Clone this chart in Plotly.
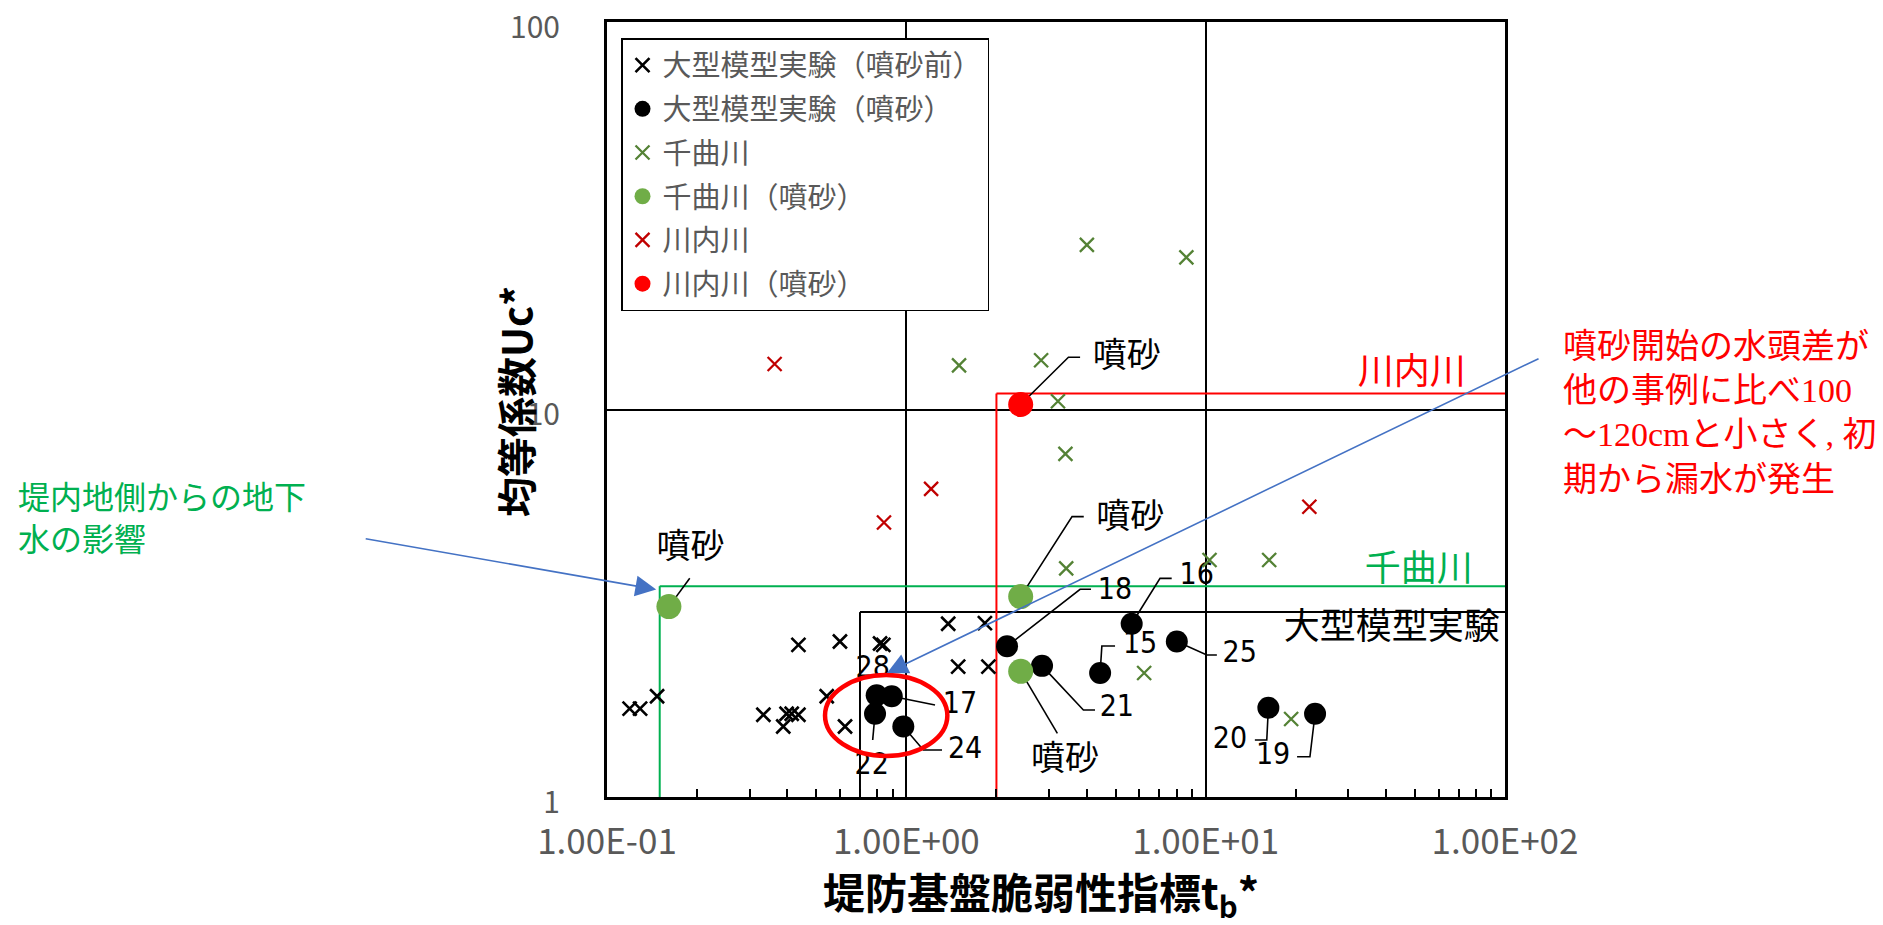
import numpy as np
import plotly.graph_objects as go

# ---- data -------------------------------------------------------------
# 大型模型実験（噴砂前）
model_pre_tb = [0.119, 0.129, 0.147, 0.333, 0.388, 0.398, 0.414, 0.436, 0.436,
                0.600, 0.542, 0.624, 0.817, 0.838, 1.38, 1.83, 1.49, 1.88]
model_pre_uc = [1.69, 1.69, 1.82, 1.63, 1.52, 1.64, 1.64, 1.63, 2.47,
                2.52, 1.82, 1.52, 2.49, 2.47, 2.80, 2.81, 2.17, 2.17]

# 大型模型実験（噴砂） with case numbers
model_sand_no = ["28", "17", "22", "24", "18", "21", "15", "16", "25", "20", "19"]
model_sand_tb = [0.796, 0.894, 0.786, 0.977, 2.17, 2.84, 4.44, 5.66, 8.01, 16.2, 23.2]
model_sand_uc = [1.83, 1.82, 1.64, 1.52, 2.45, 2.18, 2.09, 2.80, 2.52, 1.70, 1.64]

# 千曲川
chikuma_tb = [4.01, 8.62, 1.50, 2.82, 3.21, 3.40, 3.42, 10.3, 16.3, 6.23, 19.3]
chikuma_uc = [26.6, 24.7, 13.0, 13.4, 10.5, 7.68, 3.89, 4.09, 4.09, 2.09, 1.59]

# 千曲川（噴砂）
chikuma_sand_tb = [0.161, 2.41, 2.41]
chikuma_sand_uc = [3.10, 3.29, 2.11]

# 川内川
sendai_tb = [0.363, 1.21, 0.842, 22.2]
sendai_uc = [13.1, 6.24, 5.11, 5.61]

# 川内川（噴砂）
sendai_sand_tb = [2.41]
sendai_sand_uc = [10.3]

# threshold boxes (lower-left corner of each region boundary)
box_names = ["大型模型実験", "千曲川", "川内川"]
box_tb = [0.7, 0.15, 2.0]
box_uc = [3.0, 3.5, 11.0]
box_colors = ["black", "#00B050", "#FF0000"]
box_label_tb = [96.0, 78.0, 74.0]
box_label_uc = [2.70, 3.81, 12.3]

x_tickvals = [0.1, 1, 10, 100]
x_ticktext = ["1.00E-01", "1.00E+00", "1.00E+01", "1.00E+02"]
y_tickvals = [1, 10, 100]
y_ticktext = ["1", "10", "100"]

X_MIN, X_MAX = 0.1, 100
Y_MIN, Y_MAX = 1, 100

# callout layout for numbered cases: leader bend points, label anchor
case_callouts = {
    "28": ([], (0.772, 2.13)),
    "17": ([(1.247, 1.727)], (1.51, 1.727)),
    "22": ([(0.772, 1.403)], (0.766, 1.197)),
    "24": ([(1.14, 1.322), (1.316, 1.322)], (1.571, 1.322)),
    "18": ([(3.806, 3.436), (4.14, 3.436)], (4.98, 3.40)),
    "21": ([(3.904, 1.677), (4.27, 1.677)], (5.05, 1.694)),
    "15": ([(4.50, 2.453), (4.98, 2.453)], (6.04, 2.453)),
    "16": ([(7.04, 3.667), (7.70, 3.667)], (9.34, 3.70)),
    "25": ([(10.09, 2.326), (10.9, 2.326)], (13.0, 2.326)),
    "20": ([(16.0, 1.403), (14.6, 1.403)], (12.06, 1.403)),
    "19": ([(22.3, 1.27), (20.2, 1.27)], (16.8, 1.27)),
}

# callouts "噴砂" for the field sand-boil points
sand_points = list(zip(chikuma_sand_tb, chikuma_sand_uc)) + list(zip(sendai_sand_tb, sendai_sand_uc))
sand_callouts = [
    ([(0.189, 3.667)], (0.190, 4.34)),
    ([(3.578, 5.29), (3.915, 5.29)], (5.60, 5.19)),
    ([(3.196, 1.46)], (3.39, 1.236)),
    ([(3.48, 13.64), (3.806, 13.64)], (5.45, 13.56)),
]

JP = "Noto Sans CJK JP"
NARROW = "Liberation Sans Narrow, DejaVu Sans Condensed, Arial Narrow, sans-serif"

fig = go.Figure()

# ---- leader lines -----------------------------------------------------
lead_x, lead_y = [], []
for no, tb, uc in zip(model_sand_no, model_sand_tb, model_sand_uc):
    bends, _ = case_callouts[no]
    if bends:
        lead_x += [tb] + [p[0] for p in bends] + [None]
        lead_y += [uc] + [p[1] for p in bends] + [None]
for (tb, uc), (bends, _) in zip(sand_points, sand_callouts):
    lead_x += [tb] + [p[0] for p in bends] + [None]
    lead_y += [uc] + [p[1] for p in bends] + [None]

fig.add_trace(go.Scatter(x=lead_x, y=lead_y, mode="lines",
                         line=dict(color="black", width=1.6),
                         showlegend=False, hoverinfo="skip", cliponaxis=False))

# ---- callout labels ---------------------------------------------------
fig.add_trace(go.Scatter(
    x=[case_callouts[n][1][0] for n in model_sand_no],
    y=[case_callouts[n][1][1] for n in model_sand_no],
    text=model_sand_no, mode="text", textposition="middle center",
    textfont=dict(family=NARROW, size=30, color="black"),
    showlegend=False, hoverinfo="skip", cliponaxis=False))

fig.add_trace(go.Scatter(
    x=[c[1][0] for c in sand_callouts], y=[c[1][1] for c in sand_callouts],
    text=["噴砂"] * len(sand_callouts), mode="text", textposition="middle center",
    textfont=dict(family=JP, size=34, color="black"),
    showlegend=False, hoverinfo="skip", cliponaxis=False))

# region names at the right edge of each boundary
fig.add_trace(go.Scatter(
    x=box_label_tb, y=box_label_uc,
    text=box_names, mode="text", textposition="middle left",
    textfont=dict(family=JP, size=36, color=box_colors),
    showlegend=False, hoverinfo="skip", cliponaxis=False))

# ---- data series ------------------------------------------------------
def cross(color, width):
    return dict(symbol="x-thin", size=14, color=color, line=dict(color=color, width=width))

fig.add_trace(go.Scatter(x=model_pre_tb, y=model_pre_uc, mode="markers",
                         name="大型模型実験（噴砂前）", legendgroup="a",
                         marker=cross("black", 2.6)))
fig.add_trace(go.Scatter(x=model_sand_tb, y=model_sand_uc, mode="markers",
                         name="大型模型実験（噴砂）", legendgroup="b",
                         marker=dict(symbol="circle", size=22, color="black")))
fig.add_trace(go.Scatter(x=chikuma_tb, y=chikuma_uc, mode="markers",
                         name="千曲川", legendgroup="c",
                         marker=cross("#548235", 2.3)))
fig.add_trace(go.Scatter(x=chikuma_sand_tb, y=chikuma_sand_uc, mode="markers",
                         name="千曲川（噴砂）", legendgroup="d",
                         marker=dict(symbol="circle", size=25, color="#70AD47")))
fig.add_trace(go.Scatter(x=sendai_tb, y=sendai_uc, mode="markers",
                         name="川内川", legendgroup="e",
                         marker=cross("#C00000", 2.3)))
fig.add_trace(go.Scatter(x=sendai_sand_tb, y=sendai_sand_uc, mode="markers",
                         name="川内川（噴砂）", legendgroup="f",
                         marker=dict(symbol="circle", size=25, color="#FF0000")))

# ---- region boundaries ------------------------------------------------
for tb, uc, col in zip(box_tb, box_uc, box_colors):
    fig.add_shape(type="line", x0=tb, x1=tb, y0=Y_MIN, y1=uc, xref="x", yref="y",
                  line=dict(color=col, width=2), layer="between")
    fig.add_shape(type="line", x0=tb, x1=X_MAX, y0=uc, y1=uc, xref="x", yref="y",
                  line=dict(color=col, width=2), layer="between")

# red ellipse around the early-leak cases
fig.add_shape(type="circle", xref="x", yref="y", x0=0.535, x1=1.371, y0=1.276, y1=2.065,
              line=dict(color="#FF0000", width=4.5), layer="above")

# ---- explanatory notes ------------------------------------------------
fig.add_annotation(xref="paper", yref="paper", x=-0.6586, y=0.3628,
                   xanchor="left", yanchor="middle", align="left", showarrow=False,
                   text="堤内地側からの地下<br>水の影響",
                   font=dict(family=JP, size=32, color="#00B050"))
fig.add_annotation(xref="x", yref="y", x=np.log10(0.146), y=np.log10(3.43),
                   ax=-292, ay=-51, text="", showarrow=True,
                   arrowhead=2, arrowsize=2.6, arrowwidth=1.6, arrowcolor="#4472C4")

SERIF = "style='font-family:Liberation Serif, Times New Roman, serif'"
fig.add_annotation(xref="paper", yref="paper", x=1.0624, y=0.4999,
                   xanchor="left", yanchor="middle", align="left", showarrow=False,
                   text=("噴砂開始の水頭差が<br>"
                         f"他の事例に比べ<span {SERIF}>100</span><br>"
                         f"～<span {SERIF}>120cm</span>と小さく<span {SERIF}>, </span>初<br>"
                         "期から漏水が発生"),
                   font=dict(family=JP, size=34, color="#FF0000"))
fig.add_annotation(xref="x", yref="y", x=np.log10(0.862), y=np.log10(2.09),
                   ax=653, ay=-315, text="", showarrow=True,
                   arrowhead=2, arrowsize=2.6, arrowwidth=1.6, arrowcolor="#4472C4")

# ---- axis titles ------------------------------------------------------
fig.add_annotation(xref="paper", yref="paper", x=0.4833, y=-0.1245,
                   xanchor="center", yanchor="middle", showarrow=False,
                   text="<b>堤防基盤脆弱性指標t<sub>b</sub>*</b>",
                   font=dict(family=JP, size=42, color="black"))
fig.add_annotation(xref="paper", yref="paper", x=-0.1024, y=0.5097,
                   xanchor="center", yanchor="middle", showarrow=False, textangle=-90,
                   text="<b>均等係数Uc*</b>",
                   font=dict(family=JP, size=40, color="black"))

# ---- axes & layout ----------------------------------------------------
minor_vals = [m * 10.0 ** e for e in (-1, 0, 1) for m in range(2, 10)]

fig.update_xaxes(type="log", range=[np.log10(X_MIN), np.log10(X_MAX)],
                 tickmode="array", tickvals=x_tickvals, ticktext=x_ticktext,
                 showgrid=True, gridcolor="black", gridwidth=1.5,
                 showline=True, linecolor="black", linewidth=3, mirror=True,
                 ticks="", zeroline=False, ticklabeloverflow="allow", automargin=False,
                 tickfont=dict(family=JP, size=35, color="#595959"),
                 ticklabelstandoff=12,
                 minor=dict(tickmode="array", tickvals=minor_vals, ticks="inside",
                            ticklen=8, tickwidth=1.5, tickcolor="black", showgrid=False))
fig.update_yaxes(type="log", range=[np.log10(Y_MIN), np.log10(Y_MAX)],
                 tickmode="array", tickvals=y_tickvals, ticktext=y_ticktext,
                 showgrid=True, gridcolor="black", gridwidth=1.5,
                 showline=True, linecolor="black", linewidth=3, mirror=True,
                 ticks="", zeroline=False, ticklabeloverflow="allow", automargin=False,
                 tickfont=dict(family=JP, size=30, color="#595959"),
                 ticklabelstandoff=38, ticklabelshift=5)

fig.update_layout(
    width=1883, height=925,
    margin=dict(l=607, r=378, t=22, b=128, autoexpand=False),
    paper_bgcolor="white", plot_bgcolor="white",
    font=dict(family=JP),
    legend=dict(x=0.0156, y=0.979, xanchor="left", yanchor="top",
                bgcolor="white", bordercolor="black", borderwidth=1.5,
                font=dict(family=JP, size=29, color="#595959"),
                tracegroupgap=3, itemwidth=30),
    hovermode=False,
)

fig.write_html("out.html")
